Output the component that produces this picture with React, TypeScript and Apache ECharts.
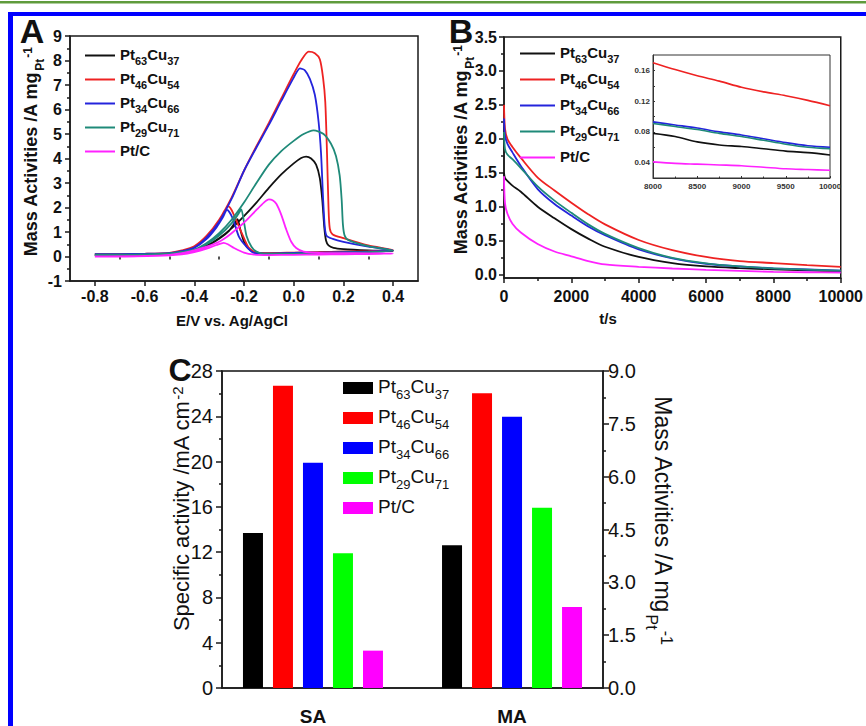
import React, { useEffect, useRef } from 'react';
import * as echarts from 'echarts';

const FONT = '"Liberation Sans", Arial, Helvetica, sans-serif';

const seriesNames = ['Pt63Cu37', 'Pt46Cu54', 'Pt34Cu66', 'Pt29Cu71', 'Pt/C'];
const lineColors = ['#111111', '#ee2222', '#2424dc', '#1f8a79', '#ff22ff'];
const barColors = ['#000000', '#ff0000', '#0000ff', '#00ff00', '#ff00ff'];

// ---------- Panel A: cyclic voltammograms (E / V, mass activity A mg-1) ----------
const cvTicksX = [-0.8, -0.6, -0.4, -0.2, 0, 0.2, 0.4];
const cvMinorTicksX = [-0.7, -0.5, -0.3, -0.1, 0.1, 0.3];

const cvPt63Cu37: [number, number][] = [
  [-0.8, 0.08], [-0.7, 0.08], [-0.6, 0.09], [-0.5, 0.12], [-0.45, 0.17], [-0.4, 0.26], [-0.35, 0.45],
  [-0.3, 0.75], [-0.25, 1.15], [-0.2, 1.65], [-0.15, 2.2], [-0.1, 2.8], [-0.05, 3.35], [0.0, 3.8],
  [0.03, 4.02], [0.05, 4.08], [0.07, 4.0], [0.09, 3.75], [0.105, 3.2], [0.115, 2.3], [0.123, 1.2],
  [0.13, 0.65], [0.14, 0.45], [0.16, 0.35], [0.2, 0.3], [0.3, 0.25], [0.4, 0.22],
  [0.3, 0.21], [0.2, 0.2], [0.1, 0.17], [0.0, 0.15], [-0.1, 0.13], [-0.15, 0.15], [-0.18, 0.3],
  [-0.2, 0.6], [-0.215, 1.1], [-0.226, 1.52], [-0.235, 1.4], [-0.26, 1.05], [-0.3, 0.72],
  [-0.35, 0.42], [-0.4, 0.22], [-0.45, 0.14], [-0.55, 0.08], [-0.8, 0.06],
];
const cvPt46Cu54: [number, number][] = [
  [-0.8, 0.1], [-0.7, 0.1], [-0.6, 0.11], [-0.5, 0.15], [-0.45, 0.25], [-0.4, 0.42], [-0.35, 0.85],
  [-0.3, 1.5], [-0.25, 2.4], [-0.2, 3.5], [-0.15, 4.5], [-0.1, 5.45], [-0.05, 6.45], [0.0, 7.45],
  [0.03, 8.0], [0.06, 8.36], [0.085, 8.3], [0.105, 8.05], [0.118, 7.3], [0.127, 6.3], [0.134, 4.2],
  [0.14, 2.0], [0.145, 1.15], [0.157, 0.9], [0.2, 0.75], [0.3, 0.45], [0.4, 0.26],
  [0.3, 0.22], [0.2, 0.2], [0.1, 0.18], [0.0, 0.16], [-0.1, 0.14], [-0.15, 0.16], [-0.18, 0.35],
  [-0.2, 0.75], [-0.23, 1.45], [-0.25, 1.9], [-0.263, 2.05], [-0.28, 1.85], [-0.3, 1.45],
  [-0.35, 0.8], [-0.4, 0.4], [-0.45, 0.22], [-0.55, 0.11], [-0.8, 0.07],
];
const cvPt34Cu66: [number, number][] = [
  [-0.8, 0.1], [-0.7, 0.1], [-0.6, 0.11], [-0.5, 0.14], [-0.45, 0.22], [-0.4, 0.37], [-0.35, 0.78],
  [-0.3, 1.42], [-0.25, 2.35], [-0.2, 3.5], [-0.15, 4.45], [-0.1, 5.37], [-0.05, 6.35], [0.0, 7.3],
  [0.025, 7.68], [0.045, 7.6], [0.065, 7.25], [0.085, 6.6], [0.1, 5.5], [0.11, 4.2], [0.118, 2.4],
  [0.125, 1.2], [0.132, 0.85], [0.157, 0.72], [0.2, 0.6], [0.3, 0.4], [0.4, 0.25],
  [0.3, 0.2], [0.2, 0.18], [0.1, 0.16], [0.0, 0.15], [-0.1, 0.12], [-0.16, 0.15], [-0.19, 0.4],
  [-0.22, 0.8], [-0.245, 1.55], [-0.268, 1.9], [-0.285, 1.6], [-0.31, 1.2], [-0.35, 0.72],
  [-0.4, 0.35], [-0.45, 0.19], [-0.55, 0.1], [-0.8, 0.07],
];
const cvPt29Cu71: [number, number][] = [
  [-0.8, 0.08], [-0.7, 0.08], [-0.6, 0.09], [-0.5, 0.13], [-0.45, 0.19], [-0.4, 0.28], [-0.35, 0.55],
  [-0.3, 0.95], [-0.25, 1.5], [-0.2, 2.2], [-0.15, 3.0], [-0.1, 3.75], [-0.05, 4.3], [0.0, 4.72],
  [0.04, 5.0], [0.08, 5.15], [0.12, 5.0], [0.15, 4.6], [0.17, 4.1], [0.185, 3.3], [0.193, 2.3],
  [0.198, 1.3], [0.205, 0.85], [0.22, 0.67], [0.3, 0.42], [0.4, 0.24],
  [0.3, 0.18], [0.2, 0.16], [0.1, 0.14], [0.0, 0.12], [-0.12, 0.12], [-0.15, 0.2], [-0.17, 0.4],
  [-0.19, 0.85], [-0.2, 1.4], [-0.211, 1.92], [-0.222, 1.75], [-0.25, 1.35], [-0.3, 0.85],
  [-0.35, 0.5], [-0.4, 0.27], [-0.45, 0.16], [-0.55, 0.08], [-0.8, 0.05],
];
const cvPtC: [number, number][] = [
  [-0.8, 0.0], [-0.7, 0.0], [-0.6, 0.02], [-0.5, 0.07], [-0.45, 0.14], [-0.4, 0.25], [-0.35, 0.4],
  [-0.3, 0.6], [-0.28, 0.72], [-0.25, 0.95], [-0.2, 1.38], [-0.15, 1.9], [-0.12, 2.2], [-0.1, 2.33],
  [-0.085, 2.3], [-0.07, 2.15], [-0.05, 1.7], [-0.03, 1.1], [-0.01, 0.6], [0.01, 0.35], [0.04, 0.2],
  [0.1, 0.15], [0.2, 0.14], [0.3, 0.13], [0.4, 0.12],
  [0.3, 0.1], [0.2, 0.09], [0.1, 0.08], [0.0, 0.07], [-0.1, 0.06], [-0.16, 0.08], [-0.2, 0.16],
  [-0.24, 0.35], [-0.265, 0.5], [-0.282, 0.56], [-0.31, 0.47], [-0.35, 0.32], [-0.4, 0.18],
  [-0.45, 0.09], [-0.55, 0.03], [-0.8, 0.0],
];
const cvCurves = [cvPt63Cu37, cvPt46Cu54, cvPt34Cu66, cvPt29Cu71, cvPtC];

// ---------- Panel B: chronoamperometry (t / s) ----------
const caTimes = [0, 30, 100, 250, 500, 1000, 1500, 2000, 2500, 3000, 4000, 5000, 6000, 7000, 8000, 9000, 10000];
const caPt63Cu37 = [1.5, 1.42, 1.38, 1.31, 1.22, 1.0, 0.83, 0.67, 0.53, 0.41, 0.26, 0.17, 0.12, 0.095, 0.078, 0.061, 0.05];
const caPt46Cu54 = [2.5, 2.15, 2.0, 1.88, 1.72, 1.43, 1.24, 1.06, 0.89, 0.74, 0.51, 0.36, 0.26, 0.2, 0.17, 0.14, 0.115];
const caPt34Cu66 = [2.3, 2.05, 1.93, 1.8, 1.6, 1.26, 1.04, 0.87, 0.71, 0.58, 0.37, 0.24, 0.16, 0.12, 0.093, 0.075, 0.06];
const caPt29Cu71 = [2.1, 1.85, 1.77, 1.7, 1.57, 1.3, 1.09, 0.91, 0.74, 0.6, 0.39, 0.245, 0.165, 0.12, 0.091, 0.073, 0.058];
const caPtC = [1.45, 1.05, 0.9, 0.75, 0.62, 0.45, 0.34, 0.27, 0.2, 0.15, 0.115, 0.09, 0.07, 0.055, 0.041, 0.035, 0.029];
const caCurves = [caPt63Cu37, caPt46Cu54, caPt34Cu66, caPt29Cu71, caPtC];
const caTicksY = [0, 0.5, 1, 1.5, 2, 2.5, 3, 3.5];
const caMinorTicksY = [0.25, 0.75, 1.25, 1.75, 2.25, 2.75, 3.25];

// inset (8000-10000 s)
const insetTimes = [8000, 8250, 8500, 8750, 9000, 9250, 9500, 9750, 10000];
const insetPt63Cu37 = [0.078, 0.074, 0.067, 0.063, 0.061, 0.058, 0.055, 0.053, 0.05];
const insetPt46Cu54 = [0.17, 0.161, 0.153, 0.146, 0.138, 0.132, 0.127, 0.121, 0.114];
const insetPt34Cu66 = [0.093, 0.089, 0.085, 0.08, 0.076, 0.071, 0.066, 0.062, 0.06];
const insetPt29Cu71 = [0.091, 0.087, 0.083, 0.078, 0.074, 0.069, 0.064, 0.06, 0.058];
const insetPtC = [0.041, 0.039, 0.038, 0.037, 0.036, 0.034, 0.032, 0.031, 0.03];
const insetCurves = [insetPt63Cu37, insetPt46Cu54, insetPt34Cu66, insetPt29Cu71, insetPtC];
const insetLabelsY = [0.04, 0.08, 0.12, 0.16];
const insetTickMarksY = [0.04, 0.06, 0.08, 0.1, 0.12, 0.14, 0.16];

// ---------- Panel C: bars ----------
const barCategories = ['SA', 'MA'];
const specificActivity = [13.7, 26.7, 19.9, 11.9, 3.3]; // mA cm-2 (left axis)
const massActivity = [4.05, 8.37, 7.7, 5.12, 2.3]; // A mg-1 (right axis)

const richLabel = (name: string) => {
  const m = name.match(/^Pt(\d+)Cu(\d+)$/);
  return m ? `{m|Pt}{s|${m[1]}}{m|Cu}{s|${m[2]}}` : `{m|${name}}`;
};

const richAB = {
  m: { fontSize: 15, fontWeight: 'bold', fontFamily: FONT, color: '#111', lineHeight: 17, verticalAlign: 'top' },
  s: { fontSize: 11, fontWeight: 'bold', fontFamily: FONT, color: '#111', lineHeight: 11, padding: [8, 0, 0, 0], verticalAlign: 'top' },
};
const richC = {
  m: { fontSize: 19, fontFamily: FONT, color: '#111', lineHeight: 22, verticalAlign: 'top' },
  s: { fontSize: 13, fontFamily: FONT, color: '#111', lineHeight: 13, padding: [11, 0, 0, 0], verticalAlign: 'top' },
};

const axisLineStyle = { color: '#1a1a1a', width: 1.5 };

function titleText(x: number, y: number, rot: number, text: string, size: number, bold: boolean) {
  const w = bold ? 'bold' : 'normal';
  const sub = Math.round(size * 0.68);
  return {
    type: 'text',
    x,
    y,
    rotation: rot,
    style: {
      text,
      fill: '#111',
      align: 'center',
      verticalAlign: 'middle',
      rich: {
        m: { fontSize: size, fontWeight: w, fontFamily: FONT, fill: '#111', lineHeight: size + 4, verticalAlign: 'top' },
        s: { fontSize: sub, fontWeight: w, fontFamily: FONT, fill: '#111', lineHeight: sub, padding: [Math.round(size * 0.66), 0, 0, 1], verticalAlign: 'top' },
        p: { fontSize: sub, fontWeight: w, fontFamily: FONT, fill: '#111', lineHeight: sub, padding: [0, 0, 0, 1], verticalAlign: 'top' },
      },
    },
  };
}

function plainText(x: number, y: number, text: string, size: number, bold: boolean, align = 'center') {
  return {
    type: 'text',
    x,
    y,
    style: {
      text,
      fill: '#111',
      fontSize: size,
      fontWeight: bold ? 'bold' : 'normal',
      fontFamily: FONT,
      align,
      verticalAlign: 'middle',
    },
  };
}

export default function App() {
  const ref = useRef<HTMLDivElement>(null);
  useEffect(() => {
    if (!ref.current) return;
    const chart = echarts.init(ref.current, undefined, { renderer: 'svg' });

    const series: any[] = [];
    cvCurves.forEach((d, i) => {
      series.push({
        type: 'line', name: seriesNames[i], xAxisIndex: 0, yAxisIndex: 0, data: d,
        symbol: 'none', showSymbol: false, smooth: 0.25, lineStyle: { color: lineColors[i], width: 1.8 },
        itemStyle: { color: lineColors[i] },
      });
    });
    caCurves.forEach((vals, i) => {
      series.push({
        type: 'line', name: seriesNames[i], xAxisIndex: 2, yAxisIndex: 1,
        data: caTimes.map((t, k) => [t, vals[k]]),
        symbol: 'none', showSymbol: false, smooth: 0.3, lineStyle: { color: lineColors[i], width: 1.8 },
        itemStyle: { color: lineColors[i] },
      });
    });
    insetCurves.forEach((vals, i) => {
      series.push({
        type: 'line', name: seriesNames[i], xAxisIndex: 3, yAxisIndex: 3,
        data: insetTimes.map((t, k) => [t, vals[k]]),
        symbol: 'none', showSymbol: false, smooth: 0.3, lineStyle: { color: lineColors[i], width: 1.6 },
        itemStyle: { color: lineColors[i] },
      });
    });
    seriesNames.forEach((n, i) => {
      series.push({
        type: 'bar', name: n, xAxisIndex: 4, yAxisIndex: 4, stack: 'b' + i,
        barWidth: 20, barGap: '50%',
        data: [[1, specificActivity[i]], [2, '-']],
        itemStyle: { color: barColors[i] },
      });
      series.push({
        type: 'bar', name: n, xAxisIndex: 4, yAxisIndex: 5, stack: 'b' + i,
        barWidth: 20, barGap: '50%',
        data: [[1, '-'], [2, massActivity[i]]],
        itemStyle: { color: barColors[i] },
      });
    });

    const tickLabelAB = { fontSize: 16, fontWeight: 'bold', fontFamily: FONT, color: '#111' };
    const tickLabelC = { fontSize: 20, fontFamily: FONT, color: '#111' };
    const insetLabel = { fontSize: 8, fontWeight: 'bold', fontFamily: FONT, color: '#333' };
    const plain = (v: number) => String(v);

    const option: any = {
      animation: false,
      backgroundColor: '#ffffff',
      grid: [
        { left: 70, top: 36, width: 348, height: 245, show: true, borderColor: '#1a1a1a', borderWidth: 1.5, backgroundColor: 'transparent' },
        { left: 504, top: 37, width: 345, height: 241, show: true, borderColor: '#1a1a1a', borderWidth: 1.5, backgroundColor: 'transparent' },
        { left: 653, top: 55, width: 177, height: 123, show: true, borderColor: '#333', borderWidth: 1, backgroundColor: 'transparent' },
        { left: 222, top: 371, width: 381, height: 317, show: true, borderColor: '#111', borderWidth: 1.5, backgroundColor: 'transparent' },
      ],
      xAxis: [
        {
          type: 'value', gridIndex: 0, min: -0.9, max: 0.5, position: 'bottom',
          axisLine: { show: true, onZero: false, lineStyle: axisLineStyle },
          axisTick: { show: true, customValues: cvTicksX, length: 5, lineStyle: axisLineStyle },
          axisLabel: { customValues: cvTicksX, formatter: (v: number) => Number(v).toFixed(1), margin: 7, ...tickLabelAB },
          splitLine: { show: false },
        },
        {
          type: 'value', gridIndex: 0, min: -0.9, max: 0.5, position: 'bottom',
          axisLine: { show: false },
          axisTick: { show: true, customValues: cvMinorTicksX, length: 3, lineStyle: axisLineStyle },
          axisLabel: { show: false },
          splitLine: { show: false },
        },
        {
          type: 'value', gridIndex: 1, min: 0, max: 10000, interval: 2000, position: 'bottom',
          axisLine: { show: true, onZero: false, lineStyle: axisLineStyle },
          axisTick: { show: true, length: 5, lineStyle: axisLineStyle },
          minorTick: { show: true, splitNumber: 2, length: 3, lineStyle: axisLineStyle },
          axisLabel: { margin: 10, formatter: plain, ...tickLabelAB },
          splitLine: { show: false },
        },
        {
          type: 'value', gridIndex: 2, min: 8000, max: 10000, interval: 500, position: 'bottom',
          axisLine: { show: true, onZero: false, lineStyle: { color: '#333', width: 1 } },
          axisTick: { show: true, inside: true, length: 2, lineStyle: { color: '#333', width: 1 } },
          minorTick: { show: true, splitNumber: 2, length: 1.5, lineStyle: { color: '#333', width: 1 } },
          axisLabel: { margin: 4, formatter: plain, ...insetLabel },
          splitLine: { show: false },
        },
        {
          type: 'value', gridIndex: 3, min: 0.543, max: 2.457, position: 'bottom',
          axisLine: { show: true, onZero: false, lineStyle: axisLineStyle },
          axisTick: { show: false },
          axisLabel: {
            customValues: [1, 2],
            formatter: (v: number) => barCategories[Math.round(v) - 1] || '',
            margin: 19, fontSize: 19, fontWeight: 'bold', fontFamily: FONT, color: '#111',
          },
          splitLine: { show: false },
        },
      ],
      yAxis: [
        {
          type: 'value', gridIndex: 0, min: -1, max: 9, interval: 1, position: 'left',
          axisLine: { show: true, onZero: false, lineStyle: axisLineStyle },
          axisTick: { show: true, length: 5, lineStyle: axisLineStyle },
          minorTick: { show: true, splitNumber: 2, length: 3, lineStyle: axisLineStyle },
          axisLabel: { margin: 8, ...tickLabelAB },
          splitLine: { show: false },
        },
        {
          type: 'value', gridIndex: 1, min: -0.05, max: 3.5, position: 'left',
          axisLine: { show: true, onZero: false, lineStyle: axisLineStyle },
          axisTick: { show: true, customValues: caTicksY, length: 5, lineStyle: axisLineStyle },
          axisLabel: { customValues: caTicksY, formatter: (v: number) => Number(v).toFixed(1), margin: 7, ...tickLabelAB },
          splitLine: { show: false },
        },
        {
          type: 'value', gridIndex: 1, min: -0.05, max: 3.5, position: 'left',
          axisLine: { show: false },
          axisTick: { show: true, customValues: caMinorTicksY, length: 3, lineStyle: axisLineStyle },
          axisLabel: { show: false },
          splitLine: { show: false },
        },
        {
          type: 'value', gridIndex: 2, min: 0.02, max: 0.18, position: 'left',
          axisLine: { show: true, onZero: false, lineStyle: { color: '#333', width: 1 } },
          axisTick: { show: true, inside: true, customValues: insetTickMarksY, length: 2, lineStyle: { color: '#333', width: 1 } },
          axisLabel: { customValues: insetLabelsY, formatter: (v: number) => Number(v).toFixed(2), margin: 3, ...insetLabel },
          splitLine: { show: false },
        },
        {
          type: 'value', gridIndex: 3, min: 0, max: 28, interval: 4, position: 'left',
          axisLine: { show: true, onZero: false, lineStyle: axisLineStyle },
          axisTick: { show: true, length: 6, lineStyle: axisLineStyle },
          minorTick: { show: true, splitNumber: 2, length: 3, lineStyle: axisLineStyle },
          axisLabel: { margin: 9, ...tickLabelC },
          splitLine: { show: false },
        },
        {
          type: 'value', gridIndex: 3, min: 0, max: 9, interval: 1.5, position: 'right',
          axisLine: { show: true, onZero: false, lineStyle: axisLineStyle },
          axisTick: { show: true, length: 6, lineStyle: axisLineStyle },
          minorTick: { show: true, splitNumber: 2, length: 3, lineStyle: axisLineStyle },
          axisLabel: { margin: 5, formatter: (v: number) => Number(v).toFixed(1), ...tickLabelC },
          splitLine: { show: false },
        },
      ],
      legend: [
        {
          left: 85, top: 47, padding: 0, orient: 'vertical', itemWidth: 30, itemHeight: 18, itemGap: 5,
          icon: 'path://M0,0L30,0L30,2L0,2Z', itemStyle: { borderWidth: 0 },
          data: seriesNames, formatter: richLabel, selectedMode: false,
          textStyle: { rich: richAB, fontFamily: FONT, fontWeight: 'bold', fontSize: 15, color: '#111' },
        },
        {
          left: 520, top: 45, padding: 0, orient: 'vertical', itemWidth: 35, itemHeight: 18, itemGap: 7,
          icon: 'path://M0,0L35,0L35,2L0,2Z', itemStyle: { borderWidth: 0 },
          data: seriesNames, formatter: richLabel, selectedMode: false,
          textStyle: { rich: richAB, fontFamily: FONT, fontWeight: 'bold', fontSize: 15, color: '#111' },
        },
        {
          left: 343, top: 377, padding: 0, orient: 'vertical', itemWidth: 30, itemHeight: 12, itemGap: 6, icon: 'rect',
          data: seriesNames.map((n, i) => ({ name: n, icon: 'rect', itemStyle: { color: barColors[i], borderWidth: 0, borderColor: barColors[i] } })),
          formatter: richLabel, selectedMode: false,
          textStyle: { rich: richC, fontFamily: FONT, fontSize: 19, color: '#111' },
        },
      ],
      graphic: [
        { type: 'rect', shape: { x: 0, y: 1, width: 866, height: 2.5 }, style: { fill: '#5f9b3c' } },
        { type: 'rect', shape: { x: 8, y: 12, width: 858, height: 4 }, style: { fill: '#0000ff' } },
        { type: 'rect', shape: { x: 8, y: 12, width: 5, height: 714 }, style: { fill: '#0000ff' } },
        plainText(32, 31, 'A', 34, true),
        plainText(461, 31, 'B', 34, true),
        plainText(180, 370, 'C', 32, true),
        plainText(232, 320, 'E/V vs. Ag/AgCl', 15, true),
        plainText(608, 318, 't/s', 15, true),
        titleText(33, 152, Math.PI / 2, '{m|Mass Activities /A mg}{s|Pt}{p|-1}', 18, true),
        titleText(463, 150, Math.PI / 2, '{m|Mass Activities /A mg}{s|Pt}{p|-1}', 18, true),
        titleText(183, 509, Math.PI / 2, '{m|Specific activity /mA cm}{p|-2}', 22, false),
        titleText(661, 520, -Math.PI / 2, '{m|Mass Activities /A mg}{s|Pt}{p|-1}', 23, false),
      ],
      series,
    };
    chart.setOption(option);
    return () => chart.dispose();
  }, []);
  return <div ref={ref} style={{ position: 'fixed', left: 0, top: 0, width: 866, height: 726 }} />;
}
